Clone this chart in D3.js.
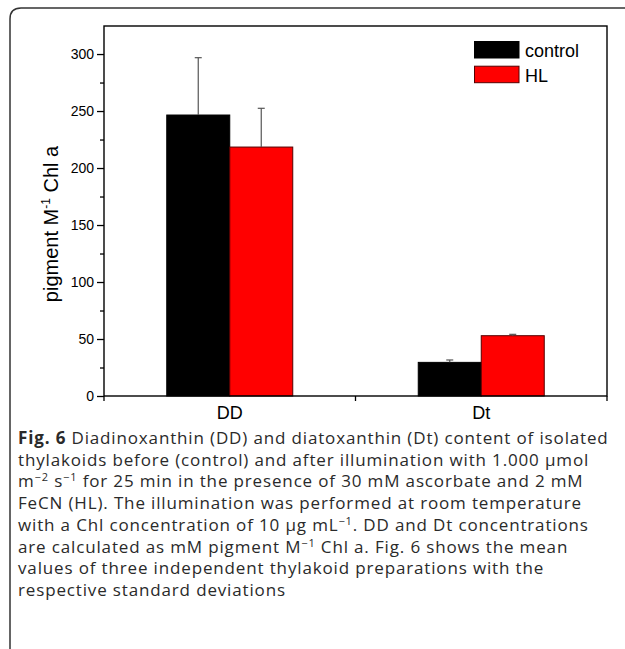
<!DOCTYPE html>
<html>
<head>
<meta charset="utf-8">
<script src="https://cdn.jsdelivr.net/npm/d3@7"></script>
<style>
body{margin:0;background:#fff}
</style>
</head>
<body>
<svg id="graph"></svg>
<script>
// data
var categories = ["DD", "Dt"];
var seriesNames = ["control", "HL"];
var seriesColors = ["#000000", "#ff0000"];
var controlValues = [246.5, 29.5];
var controlErrors = [50.3, 2.1];
var hlValues = [218.4, 52.9];
var hlErrors = [34.0, 1.2];
var yTicks = [0, 50, 100, 150, 200, 250, 300];

// caption, each line split in pieces: [text, style]
var captionLines = [
  [["Fig. 6", "b"], [" Diadinoxanthin (DD) and diatoxanthin (Dt) content of isolated", "n"]],
  [["thylakoids before (control) and after illumination with 1.000 \u03bcmol", "n"]],
  [["m", "n"], ["\u22122", "s"], [" s", "n"], ["\u22121", "s"], [" for 25 min in the presence of 30 mM ascorbate and 2 mM", "n"]],
  [["FeCN (HL). The illumination was performed at room temperature", "n"]],
  [["with a Chl concentration of 10 \u03bcg mL", "n"], ["\u22121", "s"], [". DD and Dt concentrations", "n"]],
  [["are calculated as mM pigment M", "n"], ["\u22121", "s"], [" Chl a. Fig. 6 shows the mean", "n"]],
  [["values of three independent thylakoid preparations with the", "n"]],
  [["respective standard deviations", "n"]]
];

var screen = {width: 625, height: 649};
var plot = {left: 104, top: 26, right: 607, bottom: 396};

var svg = d3.select("#graph")
  .attr("width", screen.width)
  .attr("height", screen.height);

// outer frame of the figure
svg.append("path")
  .attr("d", "M10,649 L10,19 Q10,8 21,8 L625,8")
  .attr("fill", "none")
  .attr("stroke", "#333")
  .attr("stroke-width", 1.5);

var xScale = d3.scaleBand()
  .domain(categories)
  .range([plot.left, plot.right]);

var yScale = d3.scaleLinear()
  .domain([0, 324.6])
  .range([plot.bottom, plot.top]);

var barWidth = 63;

var series = [controlValues, hlValues];
var errors = [controlErrors, hlErrors];

var bars = [];
series.forEach(function(vals, s) {
  vals.forEach(function(v, i) {
    bars.push({cat: categories[i], s: s, value: v, err: errors[s][i]});
  });
});

var barX = function(d) {
  var c = xScale(d.cat) + xScale.bandwidth() / 2;
  return d.s == 0 ? c - barWidth : c;
};

svg.append("g")
  .selectAll("rect")
  .data(bars)
  .enter()
  .append("rect")
  .attr("x", barX)
  .attr("y", function(d) { return yScale(d.value); })
  .attr("width", barWidth)
  .attr("height", function(d) { return yScale(0) - yScale(d.value); })
  .attr("fill", function(d) { return seriesColors[d.s]; })
  .attr("stroke", function(d) { return d.s == 0 ? "#000" : "#500"; })
  .attr("stroke-width", 1);

// error bars, upper side only
var eb = svg.append("g").attr("stroke", "#555").attr("stroke-width", 1.2);
eb.selectAll("line.v")
  .data(bars)
  .enter()
  .append("line")
  .attr("class", "v")
  .attr("x1", function(d) { return barX(d) + barWidth / 2; })
  .attr("x2", function(d) { return barX(d) + barWidth / 2; })
  .attr("y1", function(d) { return yScale(d.value); })
  .attr("y2", function(d) { return yScale(d.value + d.err); });
eb.selectAll("line.c")
  .data(bars)
  .enter()
  .append("line")
  .attr("class", "c")
  .attr("x1", function(d) { return barX(d) + barWidth / 2 - 3.5; })
  .attr("x2", function(d) { return barX(d) + barWidth / 2 + 3.5; })
  .attr("y1", function(d) { return yScale(d.value + d.err); })
  .attr("y2", function(d) { return yScale(d.value + d.err); });

// plot frame
svg.append("rect")
  .attr("x", plot.left)
  .attr("y", plot.top)
  .attr("width", plot.right - plot.left)
  .attr("height", plot.bottom - plot.top)
  .attr("fill", "none")
  .attr("stroke", "#000")
  .attr("stroke-width", 1.4);

// y axis
var yAxis = d3.axisLeft(yScale)
  .tickValues(yTicks)
  .tickSize(7)
  .tickPadding(3);
var gy = svg.append("g")
  .attr("transform", "translate(" + plot.left + ",0)")
  .call(yAxis);
gy.select(".domain").remove();
gy.selectAll("line").attr("stroke-width", 1.3);
gy.selectAll("text")
  .attr("font-family", "Liberation Sans, Arial, sans-serif")
  .attr("font-size", 14)
  .attr("fill", "#000");

var minor = d3.axisLeft(yScale)
  .tickValues([25, 75, 125, 175, 225, 275])
  .tickSize(4)
  .tickFormat("");
var gm = svg.append("g")
  .attr("transform", "translate(" + plot.left + ",0)")
  .call(minor);
gm.select(".domain").remove();
gm.selectAll("line").attr("stroke-width", 1.3);

// x axis
var xAxis = d3.axisBottom(xScale)
  .tickSize(0)
  .tickPadding(10);
var gx = svg.append("g")
  .attr("transform", "translate(0," + plot.bottom + ")")
  .call(xAxis);
gx.select(".domain").remove();
gx.selectAll("text")
  .attr("font-family", "Liberation Sans, Arial, sans-serif")
  .attr("font-size", 18)
  .attr("fill", "#000");

// x ticks at band edges
var edges = [plot.left, xScale("Dt"), plot.right];
svg.append("g")
  .selectAll("line")
  .data(edges)
  .enter()
  .append("line")
  .attr("x1", function(d) { return d; })
  .attr("x2", function(d) { return d; })
  .attr("y1", plot.bottom)
  .attr("y2", plot.bottom + 5)
  .attr("stroke", "#000")
  .attr("stroke-width", 1.3);

// y label
var yl = svg.append("text")
  .attr("transform", "translate(58,224) rotate(-90)")
  .attr("text-anchor", "middle")
  .attr("font-family", "Liberation Sans, Arial, sans-serif")
  .attr("font-size", 20)
  .attr("fill", "#000");
yl.append("tspan").text("pigment M");
yl.append("tspan").attr("dy", -8).attr("font-size", 12).text("-1");
yl.append("tspan").attr("dy", 8).text(" Chl a");

// legend
var legend = svg.append("g");
seriesNames.forEach(function(name, i) {
  legend.append("rect")
    .attr("x", 474.5)
    .attr("y", 41.5 + i * 24.7)
    .attr("width", 44.5)
    .attr("height", 16.5)
    .attr("fill", seriesColors[i])
    .attr("stroke", i == 0 ? "#000" : "#500")
    .attr("stroke-width", 1);
  legend.append("text")
    .attr("x", 525)
    .attr("y", 57 + i * 24.7)
    .attr("font-family", "Liberation Sans, Arial, sans-serif")
    .attr("font-size", 18)
    .attr("fill", "#000")
    .text(name);
});

// caption
var cap = svg.append("g")
  .attr("font-family", "Open Sans, sans-serif")
  .attr("font-size", 17)
  .attr("letter-spacing", 0.85)
  .attr("fill", "#2a2a2a");
captionLines.forEach(function(line, i) {
  var t = cap.append("text")
    .attr("x", 18)
    .attr("y", 444 + i * 21.7);
  line.forEach(function(p, j) {
    var sp = t.append("tspan").text(p[0]);
    if (p[1] == "b") sp.attr("font-weight", "bold");
    if (p[1] == "s") sp.attr("font-size", 11).attr("dy", -6);
    else if (j > 0 && line[j - 1][1] == "s") sp.attr("dy", 6);
  });
});
</script>
</body>
</html>
